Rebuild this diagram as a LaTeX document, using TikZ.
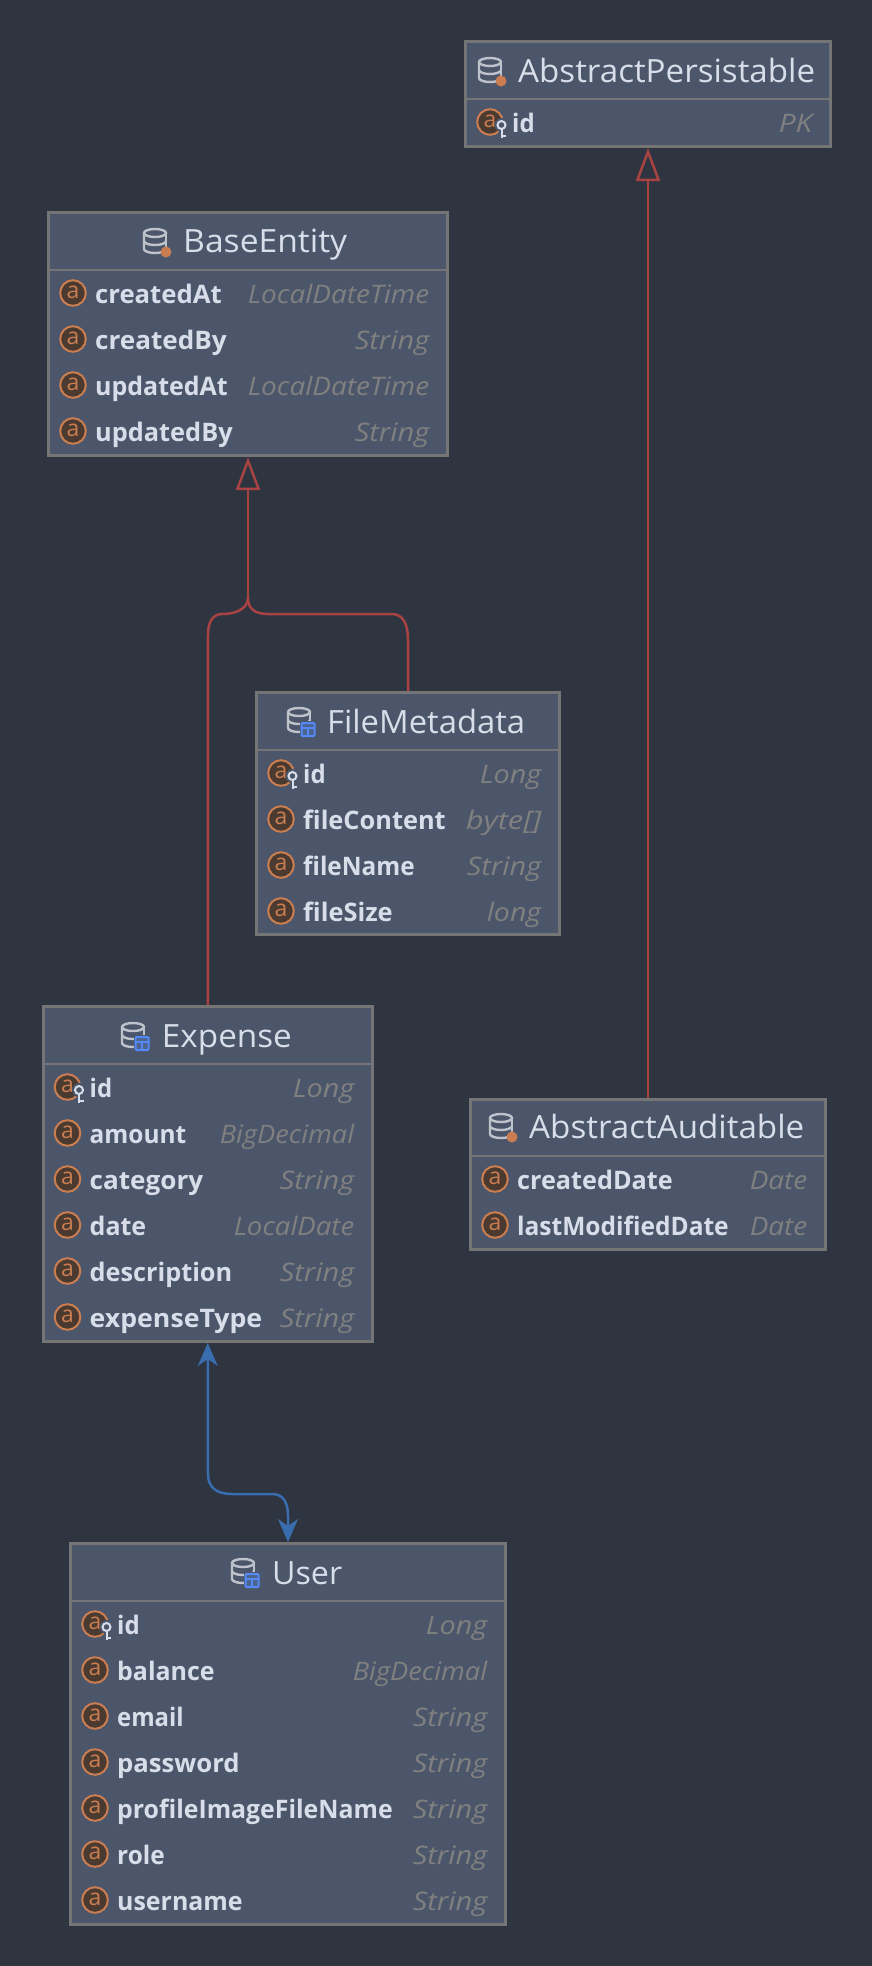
\documentclass[tikz,border=0pt]{standalone}
\usepackage{fontspec}
\usepackage{graphicx}
\setmainfont{Open Sans}
\usetikzlibrary{arrows.meta}
\definecolor{bgc}{HTML}{2E3440}
\definecolor{boxc}{HTML}{4C566A}
\definecolor{edgec}{HTML}{757575}
\definecolor{txt}{HTML}{D8DEE9}
\definecolor{typec}{HTML}{808080}
\definecolor{inh}{HTML}{A94343}
\definecolor{assoc}{HTML}{3A6DAE}
\definecolor{orangec}{HTML}{C97D50}
\definecolor{orangebg}{HTML}{4A3A30}
\definecolor{dbc}{HTML}{BEC2CA}
\definecolor{tblc}{HTML}{548AF7}
\tikzset{
  umlbox/.style={draw=edgec,fill=boxc,line width=3pt,inner sep=0pt,outer sep=1.5pt},
  hline/.style={draw=edgec,line width=2pt},
  titletxt/.style={text=txt,inner sep=0pt,anchor=base west,font=\fontsize{32}{32}\selectfont},
  fieldtxt/.style={text=txt,inner sep=0pt,anchor=base west,font=\fontsize{25.5}{25.5}\selectfont\bfseries},
  typetxt/.style={text=typec,inner sep=0pt,anchor=base east,font=\fontsize{25.5}{25.5}\selectfont\itshape},
  icona/.style={text=orangec,inner sep=0pt,font=\fontsize{23}{23}\selectfont},
  inhline/.style={draw=inh,line width=2.5pt,line join=round},
  inhhead/.style={{Triangle[open,length=33pt,width=24pt]}-,inhline},
  assocline/.style={draw=assoc,line width=2.5pt,{Stealth[length=23pt,width=20pt,inset=7pt]}-{Stealth[length=23pt,width=20pt,inset=7pt]}},
}
\newcommand{\fitw}[2]{\resizebox{#1pt}{\height}{#2}}
\newcommand{\umlnode}[6]{% name l t r b header
  \pgfmathsetmacro{\mycx}{(#2+#4)/2}\pgfmathsetmacro{\mycy}{(#3+#5)/2}
  \pgfmathsetmacro{\mywd}{#4-#2-3}\pgfmathsetmacro{\myht}{#5-#3-3}
  \node[umlbox,minimum width=\mywd pt,minimum height=\myht pt] (#1) at (\mycx,\mycy) {};
  \draw[hline] (#2+1,#6) -- (#4-1,#6);
}
\newcommand{\dbicon}[2]{% top-left
  \begin{scope}[shift={(#1,#2)},line width=2.4pt]
    \draw[dbc] (12,5) ellipse [x radius=11,y radius=4];
    \draw[dbc] (1,5) -- (1,21) arc[start angle=180,end angle=360,x radius=11,y radius=-4];
    \draw[dbc] (1,13) arc[start angle=180,end angle=360,x radius=11,y radius=-4];
    \draw[dbc] (23,5) -- (23,21);
  \end{scope}
}
\newcommand{\dbdot}[2]{\fill[orangec] (#1+23,#2+24) circle (5.5);}
\newcommand{\dbtbl}[2]{%
  \begin{scope}[shift={(#1+14.5,#2+16)}]
    \fill[boxc] (-2,-2) rectangle (15,15);
    \draw[tblc,line width=2pt,rounded corners=1pt,fill=boxc!75!tblc] (0,0) rectangle (13,13);
    \draw[tblc,line width=2pt] (0,4.5) -- (13,4.5);
    \draw[tblc,line width=1.6pt] (6.5,4.5) -- (6.5,13);
  \end{scope}
}
\newcommand{\keyicon}[2]{% key circle centre
  \begin{scope}[shift={(#1,#2)}]
    \fill[boxc] (0,0) circle (7);
    \fill[boxc] (-2.5,0) rectangle (5,13.5);
    \draw[txt,line width=2pt] (0,0) circle (4);
    \draw[txt,line width=2pt] (0,4) -- (0,12.5);
    \draw[txt,line width=2pt] (0,10.5) -- (4.5,10.5);
  \end{scope}
}
% id left right ycentre name type namewidth typewidth
\newcommand{\frow}[8]{%
  \pgfmathsetmacro{\myix}{#2+26}\pgfmathsetmacro{\mytx}{#2+48}\pgfmathsetmacro{\myex}{#3-19.5}
  \draw[orangec,line width=2pt,fill=orangebg] (\myix,#4) circle (12.8);
  \node[icona] (#1i) at (\myix,#4-0.5) {a};
  \node[fieldtxt] (#1n) at (\mytx,#4+10) {\fitw{#7}{#5}};
  \node[typetxt] (#1t) at (\myex,#4+10) {\fitw{#8}{#6}};
}
\newcommand{\krow}[8]{\frow{#1}{#2}{#3}{#4}{#5}{#6}{#7}{#8}%
  \pgfmathsetmacro{\mykx}{#2+37.5}\pgfmathsetmacro{\myky}{#4+3}\keyicon{\mykx}{\myky}}
\begin{document}
\begin{tikzpicture}[x=1pt,y=-1pt]
\useasboundingbox (0,0) rectangle (872,1966);
\fill[bgc] (0,0) rectangle (872,1966);
% boxes
\umlnode{ap}{464}{40}{832}{148}{99}
\umlnode{be}{47}{211}{449}{457}{270}
\umlnode{fm}{255}{691}{561}{936}{750}
\umlnode{ex}{41.5}{1005}{374}{1343}{1064}
\umlnode{aa}{469}{1098}{827}{1251}{1156}
\umlnode{us}{69}{1542}{507}{1926}{1601}
% titles
\dbicon{478}{57}\dbdot{478}{57}
\node[titletxt] (apt) at (518,82) {\fitw{297}{AbstractPersistable}};
\dbicon{143}{228}\dbdot{143}{228}
\node[titletxt] (bet) at (183,252) {\fitw{164}{BaseEntity}};
\dbicon{287}{707}\dbtbl{287}{707}
\node[titletxt] (fmt) at (327,733) {\fitw{198}{FileMetadata}};
\dbicon{121}{1022}\dbtbl{121}{1021}
\node[titletxt] (ext) at (161.7,1047) {\fitw{130}{Expense}};
\dbicon{489}{1113}\dbdot{489}{1113}
\node[titletxt] (aat) at (529,1138) {\fitw{275}{AbstractAuditable}};
\dbicon{231}{1558}\dbtbl{231}{1558}
\node[titletxt] (ust) at (272,1584) {\fitw{70}{User}};
% rows
\krow{ap1}{464}{832}{122}{id}{PK}{22.5}{33.5}
\frow{be1}{47}{449}{293}{createdAt}{LocalDateTime}{126.5}{181.5}
\frow{be2}{47}{449}{339}{createdBy}{String}{131.5}{74.5}
\frow{be3}{47}{449}{385}{updatedAt}{LocalDateTime}{132.5}{181.5}
\frow{be4}{47}{449}{431}{updatedBy}{String}{137.5}{74.5}
\krow{fm1}{255}{561}{773}{id}{Long}{22.5}{61.5}
\frow{fm2}{255}{561}{819}{fileContent}{byte[]}{142.5}{75.5}
\frow{fm3}{255}{561}{865}{fileName}{String}{111.5}{74.5}
\frow{fm4}{255}{561}{911}{fileSize}{long}{89.5}{54.5}
\krow{ex1}{41.5}{374}{1087}{id}{Long}{22.5}{61.5}
\frow{ex2}{41.5}{374}{1133}{amount}{BigDecimal}{96.5}{134.5}
\frow{ex3}{41.5}{374}{1179}{category}{String}{113.5}{74.5}
\frow{ex4}{41.5}{374}{1225}{date}{LocalDate}{56.5}{120.5}
\frow{ex5}{41.5}{374}{1271}{description}{String}{142.5}{74.5}
\frow{ex6}{41.5}{374}{1317}{expenseType}{String}{172.5}{74.5}
\frow{aa1}{469}{827}{1179}{createdDate}{Date}{155.5}{57.5}
\frow{aa2}{469}{827}{1225}{lastModifiedDate}{Date}{211.5}{57.5}
\krow{us1}{69}{507}{1624}{id}{Long}{22.5}{61.5}
\frow{us2}{69}{507}{1670}{balance}{BigDecimal}{97.5}{134.5}
\frow{us3}{69}{507}{1716}{email}{String}{66.5}{74.5}
\frow{us4}{69}{507}{1762}{password}{String}{122.5}{74.5}
\frow{us5}{69}{507}{1808}{profileImageFileName}{String}{275.5}{74.5}
\frow{us6}{69}{507}{1854}{role}{String}{47.5}{74.5}
\frow{us7}{69}{507}{1900}{username}{String}{125.5}{74.5}
% connectors
\draw[inhhead] (ap.south) -- (aa.north);
\draw[inhhead] (be.south) -- ++(0,141);
\draw[inhline] (be.south) ++(0,141) coordinate (split)
  .. controls (248,606) and (240,614) .. (222,614)
  .. controls (213,614) and (208,622) .. (208,634) -- (ex.north);
\draw[inhline] (split)
  .. controls (248,608) and (254,614) .. (268,614) -- (392,614)
  .. controls (403,614) and (408,624) .. (408,640) -- (fm.north);
\draw[assocline] (ex.south) -- (208,1474)
  .. controls (208,1487) and (216,1494) .. (232,1494) -- (272,1494)
  .. controls (283,1494) and (288,1502) .. (288,1516) -- (us.north);
\end{tikzpicture}
\end{document}
